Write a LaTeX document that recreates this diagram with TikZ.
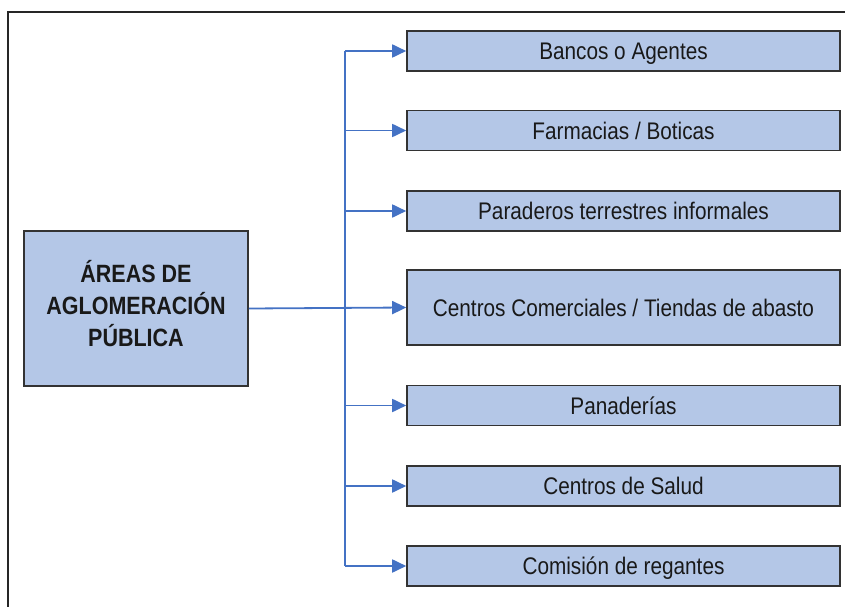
\documentclass[tikz,border=0pt]{standalone}
\usepackage{fontspec}
\setmainfont{Liberation Sans}
\usetikzlibrary{arrows.meta}
\definecolor{boxfill}{HTML}{B4C7E7}
\definecolor{boxline}{HTML}{333333}
\definecolor{linkblue}{HTML}{4472C4}
\newcommand{\nt}[1]{\scalebox{0.865}[1]{#1}}
\tikzset{
  itembox/.style={draw=boxline, line width=1.6pt, fill=boxfill, rectangle,
    minimum width=433pt, minimum height=40pt, inner sep=0pt,
    text height=17.2pt, text depth=0pt,
    font=\fontsize{24}{27}\selectfont, text=black!90},
  mainbox/.style={draw=boxline, line width=1.6pt, fill=boxfill, rectangle,
    minimum width=224pt, minimum height=155pt, inner sep=0pt,
    font=\fontsize{25}{32}\selectfont\bfseries, text=black!90},
  link/.style={draw=linkblue, line width=1.8pt},
  arr/.style={link, -{Triangle[length=14pt,width=13pt]}},
}
\begin{document}
\begin{tikzpicture}[x=1pt,y=-1pt]
\useasboundingbox (0,0) rectangle (845,607);
% frame
\draw[line width=2pt, black!85] (8,607) -- (8,12) -- (845,12);
% main box
\node[mainbox] (main) at (136,308.5) {\scalebox{0.86}[1]{\begin{tabular}{@{}c@{}}ÁREAS DE\\AGLOMERACIÓN\\PÚBLICA\end{tabular}}};
% item boxes
\node[itembox] (b1) at (623.5,51) {\nt{Bancos o Agentes}};
\node[itembox] (b2) at (623.5,130.5) {\nt{Farmacias / Boticas}};
\node[itembox] (b3) at (623.5,211) {\nt{Paraderos terrestres informales}};
\node[itembox, minimum height=75pt] (b4) at (623.5,307.5) {\nt{Centros Comerciales / Tiendas de abasto}};
\node[itembox] (b5) at (623.5,405.5) {\nt{Panaderías}};
\node[itembox] (b6) at (623.5,486) {\nt{Centros de Salud}};
\node[itembox] (b7) at (623.5,566) {\nt{Comisión de regantes}};
% bus
\coordinate (bus) at (345,0);
\draw[link] (bus |- b1.west) -- (bus |- b7.west);
\draw[arr] (main.east) -- (b4.west);
\foreach \n in {b1,b2,b3,b5,b6,b7}
  \draw[arr] (bus |- \n.west) -- (\n.west);
\end{tikzpicture}
\end{document}
